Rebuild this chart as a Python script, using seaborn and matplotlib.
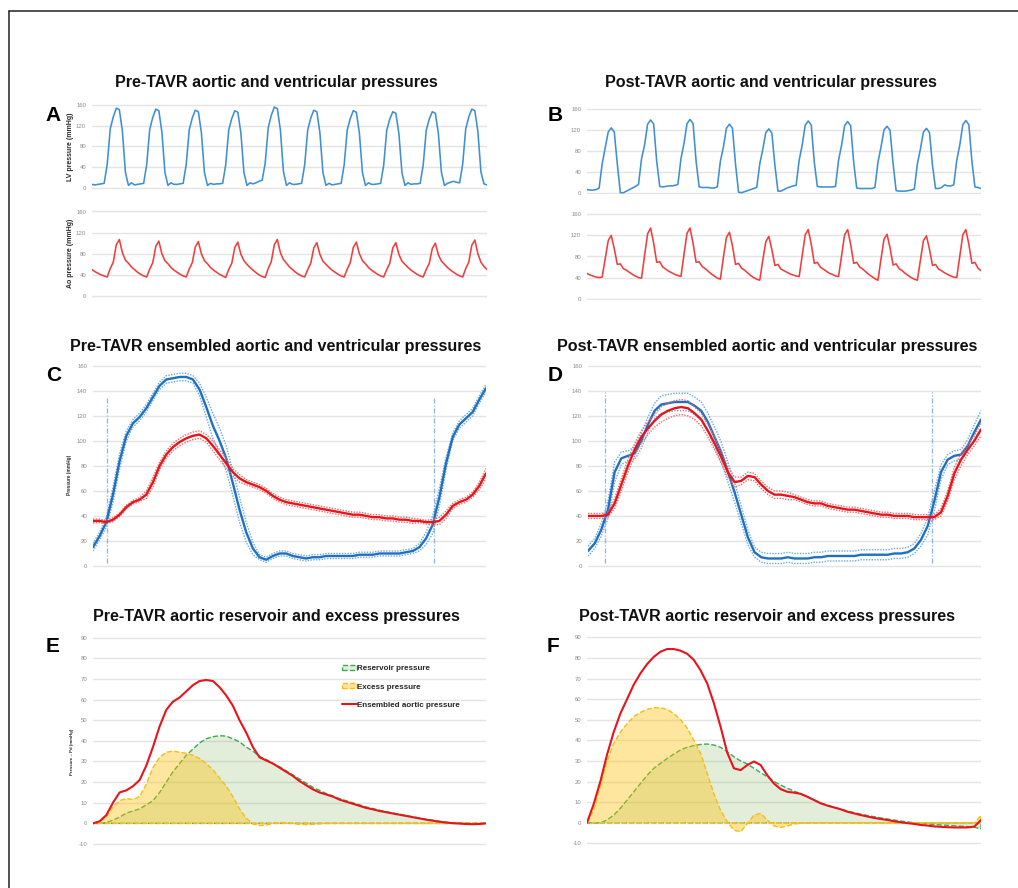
import numpy as np
import matplotlib
matplotlib.use("Agg")
import matplotlib.pyplot as plt
from matplotlib.patches import Patch
from matplotlib.lines import Line2D
import seaborn as sns

# ---------------------------------------------------------------- data
# Beat-by-beat pressures (mmHg), evenly sampled; 13 samples per beat
lv_pre = [
    7, 6, 7, 8, 9, 45, 114, 137, 154, 151, 110, 30, 5,
    10, 6, 7, 8, 9, 45, 113, 136, 152, 149, 108, 30, 5,
    10, 7, 7, 8, 9, 45, 112, 135, 150, 147, 107, 30, 5,
    9, 7, 8, 8, 9, 44, 112, 134, 149, 146, 106, 30, 5,
    10, 8, 10, 13, 15, 48, 116, 140, 156, 153, 112, 32, 5,
    10, 7, 7, 8, 9, 45, 112, 135, 150, 147, 107, 30, 5,
    9, 6, 7, 8, 9, 45, 112, 134, 149, 146, 106, 30, 5,
    10, 7, 7, 8, 9, 44, 111, 133, 147, 144, 105, 30, 5,
    10, 7, 8, 8, 9, 44, 111, 133, 147, 144, 105, 30, 5,
    9, 11, 13, 11, 10, 46, 114, 137, 152, 149, 109, 31, 8,
    6]
ao_pre = [
    50, 46, 43, 40, 38, 36, 52, 64, 97, 107, 82, 68, 62,
    55, 50, 45, 41, 38, 36, 51, 63, 94, 104, 80, 67, 61,
    54, 49, 45, 41, 38, 36, 51, 63, 93, 103, 80, 67, 61,
    54, 49, 45, 41, 38, 35, 50, 62, 92, 102, 79, 67, 60,
    54, 49, 44, 40, 37, 35, 52, 65, 97, 107, 82, 69, 62,
    55, 50, 45, 41, 38, 36, 50, 62, 91, 101, 79, 66, 60,
    54, 49, 45, 41, 38, 36, 51, 63, 92, 102, 80, 67, 61,
    54, 49, 45, 41, 38, 36, 50, 62, 91, 101, 79, 66, 60,
    54, 49, 45, 41, 38, 36, 50, 62, 90, 100, 78, 66, 60,
    54, 49, 45, 41, 38, 36, 52, 64, 96, 106, 80, 64, 56,
    50]
lv_post = [
    6, 5, 5, 6, 9, 55, 85, 116, 124, 116, 55, 0, 0,
    3, 6, 9, 12, 16, 65, 91, 131, 139, 131, 60, 12, 11,
    12, 13, 13, 14, 16, 65, 94, 132, 140, 132, 60, 11, 10,
    10, 10, 9, 9, 11, 60, 87, 123, 131, 123, 55, 1, 0,
    2, 4, 6, 8, 10, 55, 83, 115, 122, 114, 52, 3, 3,
    6, 9, 11, 13, 14, 62, 91, 129, 137, 129, 58, 12, 11,
    11, 11, 11, 11, 12, 62, 91, 128, 136, 128, 58, 9, 8,
    8, 8, 8, 8, 10, 58, 87, 120, 127, 119, 55, 4, 3,
    3, 3, 4, 5, 7, 55, 83, 116, 123, 115, 52, 8, 8,
    10, 15, 13, 13, 15, 62, 91, 130, 138, 130, 60, 11, 10,
    8]
ao_post = [
    48, 45, 43, 41, 40, 41, 75, 110, 120, 95, 65, 66, 57,
    54, 50, 46, 43, 40, 39, 82, 123, 134, 105, 69, 70, 60,
    56, 52, 49, 46, 44, 42, 84, 124, 134, 105, 69, 70, 61,
    57, 52, 47, 43, 39, 37, 78, 116, 126, 100, 65, 67, 58,
    54, 49, 44, 40, 37, 35, 73, 108, 118, 93, 63, 65, 56,
    53, 50, 47, 45, 43, 42, 82, 121, 131, 103, 67, 69, 60,
    56, 52, 48, 46, 43, 42, 82, 121, 131, 103, 67, 69, 60,
    56, 51, 46, 42, 38, 35, 75, 113, 122, 96, 64, 66, 57,
    53, 48, 44, 40, 37, 35, 73, 110, 119, 94, 63, 65, 56,
    53, 49, 46, 43, 41, 40, 81, 121, 131, 103, 67, 69, 58,
    53]

# Ensemble-averaged single cycle (60 samples) with spread of the dotted bounds
lv_pre_ens = [15, 24, 35, 57, 84, 104, 114, 119, 126, 135,
              144, 149, 150, 151, 151, 149, 141, 127, 112, 100,
              86, 66, 45, 27, 14, 7, 5, 8, 10, 10,
              8, 7, 6, 7, 7, 8, 8, 8, 8, 8,
              9, 9, 9, 10, 10, 10, 10, 11, 12, 15,
              22, 33, 55, 82, 103, 113, 118, 123, 133, 142]
lv_pre_spread = [3, 3, 4, 6, 6, 4, 3, 3, 3, 3,
                 3, 3, 3, 3, 3, 3, 5, 8, 10, 10,
                 10, 10, 10, 8, 5, 2, 2, 2, 2, 2,
                 2, 2, 2, 2, 2, 2, 2, 2, 2, 2,
                 2, 2, 2, 2, 2, 2, 2, 2, 2, 3,
                 5, 7, 7, 5, 3, 3, 3, 3, 3, 3]
ao_pre_ens = [36, 36, 35, 37, 41, 47, 51, 53, 57, 67,
              80, 89, 95, 99, 102, 104, 105, 102, 96, 89,
              82, 75, 70, 67, 65, 63, 60, 56, 53, 51,
              50, 49, 48, 47, 46, 45, 44, 43, 42, 41,
              41, 40, 39, 39, 38, 38, 37, 37, 36, 36,
              35, 35, 36, 41, 48, 51, 53, 57, 64, 74]
ao_pre_spread = [1.5, 1.5, 1.5, 1.5, 1.5, 1.5, 1.5, 1.5, 3, 4,
                 3, 3, 3, 3, 3, 3, 3, 3, 4, 4,
                 4, 3, 3, 2, 2, 2, 2, 2, 2, 2,
                 2, 2, 2, 2, 2, 2, 2, 2, 2, 2,
                 2, 2, 2, 2, 2, 2, 2, 2, 2, 1.5,
                 1.5, 2, 3, 3, 2, 2, 2, 2, 3, 4]
lv_post_ens = [12, 18, 29, 45, 75, 86, 88, 90, 100, 113,
               124, 129, 130, 131, 131, 131, 128, 124, 115, 103,
               91, 75, 59, 41, 23, 11, 7, 6, 6, 6,
               7, 6, 6, 6, 7, 7, 8, 8, 8, 8,
               8, 9, 9, 9, 9, 9, 10, 10, 11, 14,
               21, 32, 52, 75, 85, 88, 89, 96, 107, 117]
lv_post_spread = [4, 4, 5, 7, 8, 5, 4, 5, 6, 6,
                  6, 7, 7, 7, 7, 7, 7, 7, 7, 8,
                  8, 8, 8, 7, 6, 4, 4, 4, 4, 4,
                  4, 4, 4, 4, 4, 4, 4, 4, 4, 4,
                  4, 4, 4, 4, 4, 4, 4, 4, 4, 4,
                  5, 7, 8, 6, 4, 4, 4, 5, 6, 7]
ao_post_ens = [40, 40, 40, 41, 50, 65, 80, 93, 103, 110,
               116, 121, 124, 126, 127, 126, 122, 117, 108, 98,
               87, 75, 67, 68, 72, 71, 65, 60, 57, 57,
               56, 55, 53, 51, 50, 50, 48, 47, 46, 45,
               45, 44, 43, 42, 41, 41, 40, 40, 40, 39,
               39, 39, 39, 43, 56, 74, 85, 93, 100, 109]
ao_post_spread = [2, 2, 2, 2, 4, 5, 5, 5, 5, 5,
                  5, 6, 6, 6, 6, 6, 5, 5, 5, 5,
                  5, 4, 4, 3, 3, 3, 3, 3, 3, 3,
                  3, 2, 2, 2, 2, 2, 2, 2, 2, 2,
                  2, 2, 2, 2, 2, 2, 2, 2, 2, 2,
                  2, 2, 2, 3, 4, 5, 5, 4, 4, 5]
# sample positions of valve opening markers and their vertical extent (mmHg)
valve_pre = [2.15, 51.25]
valve_post = [2.6, 51.65]
valve_span_pre = [2, 136]
valve_span_post = [2, 139]

# Reservoir / excess separation (pressure above diastolic, mmHg)
ens_pre = [0, 1, 4, 10, 15, 16, 18, 21, 28, 37,
           47, 55, 59, 61, 64, 67, 69, 69.5, 69, 66,
           62, 57, 50, 44, 37, 32, 30.5, 29, 27, 25,
           23, 20.5, 18.5, 16.5, 15, 14, 13, 11.5, 10.5, 9.5,
           8.5, 7.5, 6.8, 6, 5.4, 4.8, 4.2, 3.6, 3, 2.4,
           1.8, 1.3, 0.8, 0.4, 0.1, -0.1, -0.3, -0.4, -0.3, 0]
res_pre = [0, 0, 0.3, 1.6, 3, 5, 6, 7, 9, 11,
           15, 20, 25, 29, 33, 36, 39, 41, 42, 42.5,
           42.3, 41, 39.5, 37, 35, 32.5, 31, 29, 27.5, 25.5,
           23.5, 21.5, 19.5, 17.5, 16, 14.5, 13.3, 12, 11, 10,
           9, 8, 7.2, 6.4, 5.7, 5, 4.4, 3.8, 3.2, 2.6,
           2, 1.5, 1, 0.6, 0.3, 0.1, 0, 0, 0, 0]
exc_pre = [0, 1, 3, 8, 11, 12, 11.6, 13, 19, 27,
           32, 34.5, 35, 34.5, 34, 33, 31.5, 29, 26, 22,
           18, 13, 7, 2.5, -0.3, -1.1, -0.8, 0, 0.5, 0.3,
           0, -0.5, -0.6, -0.5, -0.2, 0, 0, 0, 0, 0,
           0, 0, 0, 0, 0, 0, 0, 0, 0, 0,
           0, 0, 0, 0, 0, 0, 0, 0, 0, 0]
ens_post = [0, 9, 20, 33, 44, 53, 60, 67, 72.5, 77,
            80.5, 83, 84.3, 84.3, 83.5, 82, 79, 74, 67.6, 58,
            46.6, 34, 26.4, 25.5, 28, 29.7, 28, 23, 19, 16.3,
            15, 14.6, 14, 12.6, 11, 9.4, 8.3, 7.4, 6.5, 5.3,
            4.5, 3.7, 3, 2.3, 1.8, 1.3, 0.7, 0.2, -0.2, -0.6,
            -1.1, -1.4, -1.8, -2, -2.2, -2.3, -2.3, -2.3, -1.9, 1.3]
res_post = [0, 0, 0, 1.3, 3.7, 7, 11, 15, 19, 23,
            26.4, 28.8, 31.2, 33.3, 35.3, 36.6, 37.4, 38, 38.2, 37.7,
            36.6, 34.5, 32, 30, 28.5, 26.4, 24.3, 22.3, 20, 18.3,
            16.7, 15.4, 14, 12.6, 11, 9.6, 8.5, 7.5, 6.6, 5.7,
            4.9, 4.2, 3.5, 2.9, 2.3, 1.8, 1.3, 0.8, 0.4, 0,
            -0.3, -0.6, -0.9, -1.1, -1.3, -1.5, -1.7, -1.9, -2.2, -3]
exc_post = [0, 6, 17.5, 30, 38.5, 44, 48, 51.5, 53.5, 55,
            55.8, 55.8, 55, 53, 50, 46, 40, 33.7, 24, 14,
            6, 0.5, -3.6, -4.4, -0.5, 3.7, 4.5, 1.3, -1.6, -2.3,
            -1.6, -0.6, -0.3, 0, 0, 0, 0, 0, 0, 0,
            0, 0, 0, 0, 0, 0, 0, 0, 0, 0,
            0, 0, 0, 0, 0, 0, 0, 0, 0, 3.5]

ticks_raw = [0, 40, 80, 120, 160]
ticks_ens = [0, 20, 40, 60, 80, 100, 120, 140, 160]
ticks_sep = [-10, 0, 10, 20, 30, 40, 50, 60, 70, 80, 90]
legend_labels = ["Reservoir pressure", "Excess pressure", "Ensembled aortic pressure"]

# ---------------------------------------------------------------- style
sns.set_theme(style="white")
plt.rcParams['font.family'] = ['Liberation Sans', 'DejaVu Sans']

W, H, DPI = 1018, 888, 100
fig = plt.figure(figsize=(W / DPI, H / DPI), dpi=DPI)
fig.patch.set_facecolor('white')

BLUE_RAW, RED_RAW = '#3f8fd4', '#ef3e3e'
BLUE, BLUE_BAND = '#1f70c1', '#6aa8e4'
RED, RED_BAND = '#e8141c', '#f06a6a'
VALVE = '#8db4e2'
GREEN, GREEN_FILL = '#3daa55', (0.44, 0.68, 0.28, 0.2)
YELLOW, YELLOW_FILL = '#f7bd16', (1.0, 0.75, 0.0, 0.38)
GRID = '#e4e4e4'
TICKC = '#8a8a8a'


def axes_at(x0, x1, y_hi, v_hi, y_lo, v_lo, ylim):
    """Create axes whose gridlines for v_hi / v_lo land on pixel rows y_hi / y_lo."""
    scale = (y_lo - y_hi) / (v_hi - v_lo)
    top = y_hi - (ylim[1] - v_hi) * scale
    bot = y_lo + (v_lo - ylim[0]) * scale
    ax = fig.add_axes([x0 / W, 1 - bot / H, (x1 - x0) / W, (bot - top) / H])
    ax.set_ylim(*ylim)
    return ax


def style(ax, ticks, n):
    ax.set_xlim(0, n - 1)
    ax.set_xticks([])
    ax.set_yticks(ticks)
    ax.set_yticklabels([str(t) for t in ticks])
    ax.tick_params(axis='y', length=0, pad=4.2, labelsize=4.3, labelcolor=TICKC)
    for s in ax.spines.values():
        s.set_visible(False)
    ax.grid(axis='y', color=GRID, linewidth=1.0)
    ax.set_axisbelow(True)
    ax.set_facecolor('none')
    ax.set_xlabel('')
    ax.set_ylabel('')


def trace(ax, y, color, lw, ls='-', alpha=1.0, z=3):
    sns.lineplot(x=np.arange(len(y)), y=np.asarray(y, float), ax=ax, color=color,
                 linewidth=lw, linestyle=ls, alpha=alpha, zorder=z)


def ftext(x, y, s, **kw):
    fig.text(x / W, 1 - y / H, s, **kw)


# ---------------------------------------------------------------- A / B raw traces
raw_panels = [
    (92, 487, 105, 188, 211.5, 296, lv_pre, ao_pre),
    (587, 981, 109, 192.7, 214.3, 298.7, lv_post, ao_post),
]
for x0, x1, t1, b1, t2, b2, lv, ao in raw_panels:
    ax1 = axes_at(x0, x1, t1, 160, b1, 0, (-3, 163))
    style(ax1, ticks_raw, len(lv))
    trace(ax1, lv, BLUE_RAW, 1.15)
    ax2 = axes_at(x0, x1, t2, 160, b2, 0, (-3, 163))
    style(ax2, ticks_raw, len(ao))
    trace(ax2, ao, RED_RAW, 1.15)

# ---------------------------------------------------------------- C / D ensembles
ens_panels = [
    (93, 486, lv_pre_ens, lv_pre_spread, ao_pre_ens, ao_pre_spread, valve_pre, valve_span_pre),
    (588, 981, lv_post_ens, lv_post_spread, ao_post_ens, ao_post_spread, valve_post, valve_span_post),
]
for x0, x1, lv, lvs, ao, aos, valve, span in ens_panels:
    ax = axes_at(x0, x1, 365.7, 160, 566, 0, (-2, 162))
    style(ax, ticks_ens, len(lv))
    ax.vlines(valve, span[0], span[1], colors=VALVE, linewidth=0.9,
              linestyles=(0, (4, 1.5, 1, 1.5)), zorder=2)
    lv_a, lvs_a = np.asarray(lv, float), np.asarray(lvs, float)
    ao_a, aos_a = np.asarray(ao, float), np.asarray(aos, float)
    trace(ax, lv_a + lvs_a, BLUE_BAND, 1.0, ls=(0, (1, 1)), z=3)
    trace(ax, lv_a - lvs_a, BLUE_BAND, 1.0, ls=(0, (1, 1)), z=3)
    trace(ax, lv_a, BLUE, 1.7, z=4)
    trace(ax, ao_a + aos_a, RED_BAND, 1.0, ls=(0, (1, 1)), z=5)
    trace(ax, ao_a - aos_a, RED_BAND, 1.0, ls=(0, (1, 1)), z=5)
    trace(ax, ao_a, RED, 1.7, z=6)

# ---------------------------------------------------------------- E / F separation
sep_panels = [
    (93, 486, 637.7, 844, ens_pre, res_pre, exc_pre),
    (587, 981, 637.3, 843.3, ens_post, res_post, exc_post),
]
sep_axes = []
for x0, x1, y90, ym10, ens, res, exc in sep_panels:
    ax = axes_at(x0, x1, y90, 90, ym10, -10, (-11, 91))
    style(ax, ticks_sep, len(ens))
    idx = np.arange(len(ens))
    ax.fill_between(idx, res, 0, facecolor=GREEN_FILL, edgecolor=GREEN,
                    linestyle='--', linewidth=1.0, zorder=3)
    ax.fill_between(idx, exc, 0, facecolor=YELLOW_FILL, edgecolor=YELLOW,
                    linestyle='--', linewidth=1.0, zorder=4)
    trace(ax, ens, RED, 1.5, z=5)
    sep_axes.append(ax)

handles = [
    Patch(facecolor=GREEN_FILL, edgecolor=GREEN, linestyle='--', linewidth=1.0),
    Patch(facecolor=YELLOW_FILL, edgecolor=YELLOW, linestyle='--', linewidth=1.0),
    Line2D([], [], color=RED, linewidth=1.5),
]
sep_axes[0].legend(handles, legend_labels, loc='upper left',
                   bbox_to_anchor=(341.7 / W, 1 - 665.0 / H), bbox_transform=fig.transFigure,
                   frameon=False, borderpad=0, borderaxespad=0, handlelength=1.85,
                   handleheight=0.62, handletextpad=0.1, labelspacing=1.33,
                   prop={'size': 5.8, 'weight': 'bold'})

# ---------------------------------------------------------------- titles, letters, axis labels
title_kw = dict(ha='center', va='baseline', fontsize=11.6, fontweight='bold', color='#111111')
ftext(276, 86.7, "Pre-TAVR aortic and ventricular pressures", **title_kw)
ftext(771, 86.7, "Post-TAVR aortic and ventricular pressures", **title_kw)
ftext(276, 350.7, "Pre-TAVR ensembled aortic and ventricular pressures", **title_kw)
ftext(767, 350.7, "Post-TAVR ensembled aortic and ventricular pressures", **title_kw)
ftext(276, 620.7, "Pre-TAVR aortic reservoir and excess pressures", **title_kw)
ftext(767, 620.7, "Post-TAVR aortic reservoir and excess pressures", **title_kw)

letter_kw = dict(ha='center', va='baseline', fontsize=15, fontweight='bold', color='#000000')
for s, x, y in [('A', 53.3, 120.7), ('B', 555, 120.7), ('C', 53.3, 380.7),
                ('D', 555, 380.7), ('E', 52.7, 651.7), ('F', 553, 651.7)]:
    ftext(x, y, s, **letter_kw)

ylab_kw = dict(ha='center', va='center', rotation=90, fontweight='bold', color='#2a2a2a')
ftext(70.7, 146.7, "LV pressure (mmHg)", fontsize=5.0, **ylab_kw)
ftext(70.7, 253.5, "Ao pressure (mmHg)", fontsize=5.0, **ylab_kw)
ftext(70.0, 475.0, "Pressure (mmHg)", fontsize=3.4, **ylab_kw)
ftext(71.7, 752.0, "Pressure \u2013 Pd (mmHg)", fontsize=3.2, **ylab_kw)

# page frame (left and top edges)
fig.add_artist(Line2D([9 / W, 9 / W], [0, 1 - 11 / H], transform=fig.transFigure,
                      color='#222222', linewidth=1.1))
fig.add_artist(Line2D([9 / W, 1], [1 - 11 / H, 1 - 11 / H], transform=fig.transFigure,
                      color='#222222', linewidth=1.1))

fig.savefig("out.png", dpi=DPI, facecolor='white')
